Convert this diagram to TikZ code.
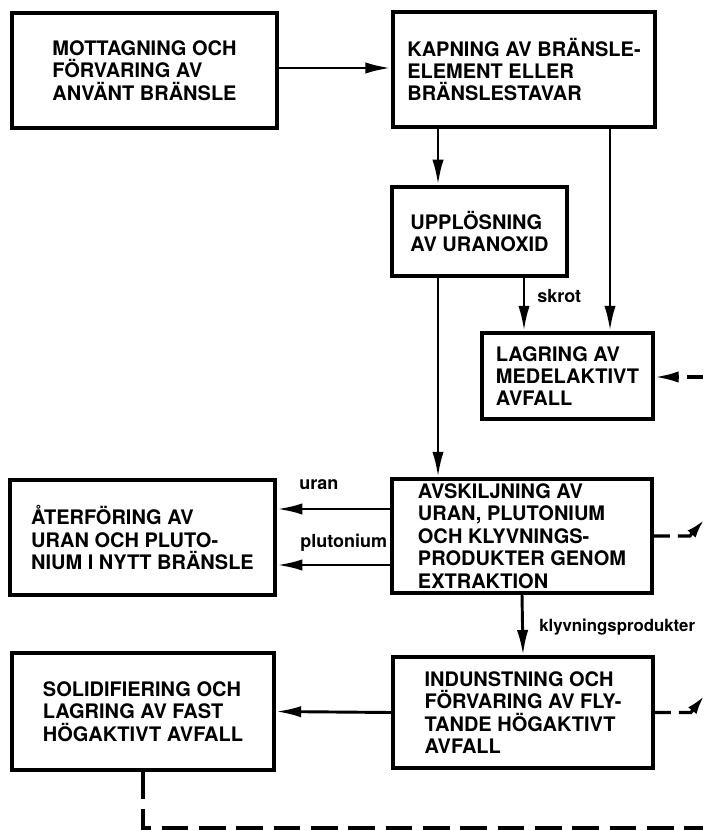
\documentclass[tikz,border=0pt]{standalone}
\usepackage{fontspec}
\setmainfont{TeX Gyre Heros}
\usetikzlibrary{arrows.meta}

\tikzset{
  box/.style={draw, line width=2.8pt, align=left, font=\fontsize{15}{16.8}\selectfont\bfseries},
  arr/.style={line width=2.2pt, -{Latex[length=19pt,width=8.5pt]}},
  lbl/.style={anchor=west, inner sep=0pt, font=\fontsize{13.5}{15}\selectfont\bfseries},
  dsh/.style={line width=2.4pt, dash pattern=on 12pt off 6pt},
}

\begin{document}
\begin{tikzpicture}[x=0.75pt,y=0.75pt,yscale=-1,xscale=1]
\useasboundingbox (0,0) rectangle (703,830);

% boxes
\node[box, minimum width=199pt, minimum height=86pt] (mottag) at (144.5,70.5) {MOTTAGNING OCH\\FÖRVARING AV\\ANVÄNT BRÄNSLE};
\node[box, minimum width=197pt, minimum height=86pt] (kapning) at (524,69.5) {KAPNING AV BRÄNSLE-\\ELEMENT ELLER\\BRÄNSLESTAVAR};
\node[box, minimum width=131pt, minimum height=67pt] (upplos) at (479.5,231.5) {UPPLÖSNING\\AV URANOXID};
\node[box, minimum width=128pt, minimum height=64.5pt] (lagring) at (567.5,376) {LAGRING AV\\MEDELAKTIVT\\AVFALL};
\node[box, minimum width=195pt, minimum height=85.5pt] (avskilj) at (522,536) {AVSKILJNING AV\\URAN, PLUTONIUM\\OCH KLYVNINGS-\\PRODUKTER GENOM\\EXTRAKTION};
\node[box, minimum width=199pt, minimum height=86pt] (aterfor) at (142.5,537.5) {ÅTERFÖRING AV\\URAN OCH PLUTO-\\NIUM I NYTT BRÄNSLE};
\node[box, minimum width=195pt, minimum height=83pt] (indunst) at (523,712.5) {INDUNSTNING OCH\\FÖRVARING AV FLY-\\TANDE HÖGAKTIVT\\AVFALL};
\node[box, minimum width=196.5pt, minimum height=88pt] (solid) at (143,711.5) {SOLIDIFIERING OCH\\LAGRING AV FAST\\HÖGAKTIVT AVFALL};

% helper coordinates
\coordinate (xa) at (438,0);
\coordinate (xb) at (610,0);
\coordinate (xc) at (524,0);
\coordinate (yu) at (0,509);
\coordinate (yp) at (0,565);
\coordinate (inlag) at (703,377);
\coordinate (utavs) at (704,520);
\coordinate (utind) at (704,696);
\coordinate (botend) at (703,828);

% connectors
\draw[arr] (mottag.east |- 0,68) -- (kapning.west |- 0,68);
\draw[arr] (kapning.south -| xa) -- (upplos.north -| xa);
\draw[arr] (kapning.south -| xb) -- (lagring.north -| xb);
\draw[arr] (upplos.south -| xc) -- (lagring.north -| xc);
\draw[arr] (upplos.south -| xa) -- (avskilj.north -| xa);
\draw[arr] (avskilj.west |- yu) -- (aterfor.east |- yu);
\draw[arr] (avskilj.west |- yp) -- (aterfor.east |- yp);
\draw[arr] (avskilj.south) -- (indunst.north);
\draw[arr] (indunst.west) -- (solid.east);

% dashed returns
\draw[dsh, -{Latex[length=18pt,width=8.5pt]}] (inlag) -- (lagring.east |- inlag);
\draw[dsh, -{Latex[length=14pt,width=8pt]}] (avskilj.east) -- ++(36,0) -- (utavs);
\draw[dsh, -{Latex[length=14pt,width=8pt]}] (indunst.east) -- ++(36,0) -- (utind);
\draw[dsh, dash pattern=on 20pt off 8pt] (solid.south) |- (botend);

% labels
\node[lbl] (skrot) at (537,296) {skrot};
\node[lbl] (uran) at (299,485) {uran};
\node[lbl] (pluto) at (300,543) {plutonium};
\node[lbl, font=\fontsize{12.6}{15}\selectfont\bfseries] (klyv) at (539,627) {klyvningsprodukter};
\end{tikzpicture}
\end{document}
